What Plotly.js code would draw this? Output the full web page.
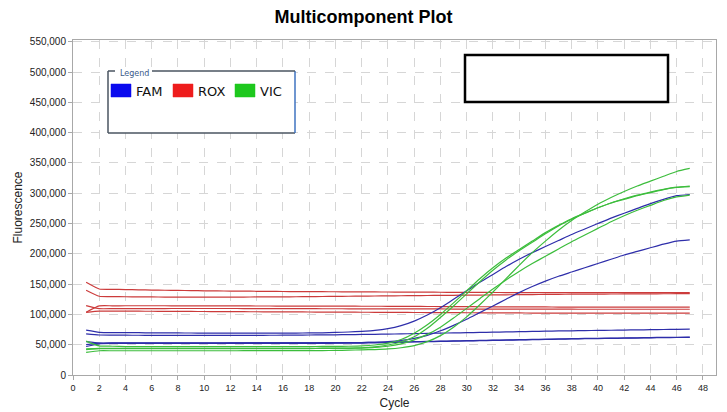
<!DOCTYPE html>
<html>
<head>
<meta charset="utf-8">
<script src="https://cdn.plot.ly/plotly-3.0.1.min.js"></script>
<style>html,body{margin:0;padding:0;background:#fff;}#chart{width:727px;height:412px;}</style>
</head>
<body>
<div id="chart"></div>
<script>
const cycles = [1,2,3,4,5,6,7,8,9,10,11,12,13,14,15,16,17,18,19,20,21,22,23,24,25,26,27,28,29,30,31,32,33,34,35,36,37,38,39,40,41,42,43,44,45,46,47];

const fam1 = [74000,70500,70000,70000,69800,69600,69500,69400,69300,69200,
  69100,69000,69000,69000,69000,69100,69200,69400,69700,70200,
  71000,72000,73500,76500,81500,89000,99000,111000,125000,139000,
  153000,166000,179000,191000,202000,212000,222000,232000,241000,250000,
  259000,267000,275000,283000,290000,296000,298000];
const fam2 = [68000,66000,65800,65700,65600,65500,65500,65400,65400,65400,
  65400,65400,65500,65500,65600,65700,65800,66000,66200,66400,
  66600,66900,67200,67500,67900,68300,68700,69100,69500,69900,
  70300,70700,71100,71500,71900,72300,72700,73000,73300,73600,
  73900,74200,74500,74800,75100,75400,75600];
const fam3 = [55000,52500,52500,52500,52600,52600,52700,52700,52800,52800,
  52800,52900,52900,52900,53000,53000,53000,53000,53100,53100,
  53200,53500,54000,55000,57000,60500,65500,73000,82000,92000,
  103000,114000,125000,136000,146000,155000,163000,170000,177000,184000,
  191000,198000,204000,210000,216000,221000,223000];
const fam4 = [47000,51500,52000,52000,52000,52000,52000,52000,52000,52000,
  52000,52000,52000,52100,52100,52200,52200,52300,52300,52400,
  52500,52700,53000,53500,54000,54500,55000,55400,55800,56200,
  56600,57000,57400,57800,58200,58600,59000,59400,59800,60100,
  60400,60700,61000,61300,61600,61900,62100];
const fam5 = [50000,52500,53000,53000,53000,53000,53000,53000,53000,53000,
  53000,53000,53000,53000,53100,53100,53200,53200,53300,53300,
  53400,53600,53900,54300,54700,55100,55500,55900,56300,56700,
  57100,57500,57900,58300,58700,59100,59500,59900,60300,60600,
  60900,61200,61500,61800,62100,62300,62500];

const rox1 = [153000,142000,141500,141000,140600,140200,139900,139600,139300,139000,
  138800,138600,138400,138200,138000,137800,137700,137600,137500,137400,
  137300,137200,137100,137000,136900,136800,136700,136600,136500,136400,
  136300,136200,136100,136000,136000,136000,136000,136000,136000,136000,
  136000,136000,136000,136000,136000,136000,136000];
const rox2 = [140000,130000,129500,129200,129000,128800,128700,128600,128500,128500,
  128500,128600,128700,128800,128900,129000,129200,129400,129600,129800,
  130000,130200,130400,130600,130800,131000,131200,131400,131600,131800,
  132000,132200,132400,132600,132800,133000,133200,133400,133500,133600,
  133700,133800,133900,134000,134100,134200,134300];
const rox3 = [114500,109500,109500,109600,109600,109700,109700,109800,109800,109800,
  109800,109800,109700,109700,109600,109600,109500,109500,109400,109400,
  109300,109300,109200,109200,109100,109100,109000,109000,108900,108900,
  108800,108800,108700,108700,108700,108600,108600,108600,108500,108500,
  108500,108500,108500,108500,108500,108500,108500];
const rox4 = [103500,114000,114200,114300,114300,114300,114300,114200,114200,114100,
  114100,114000,114000,113900,113900,113800,113800,113700,113700,113600,
  113600,113500,113500,113400,113300,113200,113100,113000,112900,112800,
  112700,112600,112500,112400,112300,112300,112200,112200,112100,112100,
  112100,112000,112000,112000,112000,112000,112000];
const rox5 = [103500,105500,105500,105400,105300,105200,105100,105000,104900,104800,
  104700,104600,104500,104400,104300,104200,104100,104000,103900,103800,
  103700,103600,103500,103400,103300,103200,103100,103000,102900,102800,
  102700,102600,102500,102400,102300,102300,102200,102200,102100,102100,
  102100,102000,102000,102000,102000,102000,102000];

const vic1 = [37500,40000,40000,40000,40000,40000,40000,40000,40000,40000,
  40000,40000,40100,40100,40200,40200,40300,40300,40400,40500,
  41000,41500,42000,43000,45000,48500,55000,65000,79000,96000,
  116000,137000,159000,181000,202000,221000,239000,255000,269000,282000,
  293000,303000,312000,320000,328000,336000,341000];
const vic2 = [56000,48000,47500,47000,47000,46800,46800,46700,46700,46700,
  46700,46700,46700,46700,46800,46800,46900,47000,47100,47300,
  47500,48000,49500,52500,58500,69000,83000,100000,119000,139000,
  159000,177000,193000,207000,221000,235000,247000,258000,267000,276000,
  284000,290000,296000,301000,306000,309500,311000];
const vic3 = [43000,44000,44000,44000,44000,44000,44000,44000,44000,44000,
  44000,44000,44000,44000,44000,44000,44000,44100,44200,44300,
  44500,45000,46500,49500,54500,63000,77000,95000,114000,134000,
  154000,173000,190000,205000,219000,233000,246000,257000,267000,276000,
  284000,291000,297000,302000,306500,310000,312000];
const vic4 = [42000,43500,43500,43500,43500,43500,43500,43500,43500,43500,
  43500,43500,43500,43500,43500,43500,43600,43700,43800,43900,
  44000,44500,45500,47500,51500,58000,67000,79000,94000,110000,
  126000,142000,157000,171000,184000,196000,208000,220000,231000,242000,
  253000,263000,272000,280000,288000,294000,297000];

const dyeNames = ['FAM', 'ROX', 'VIC'];
const lineColors = {FAM: '#2e2eaa', ROX: '#cc3b3b', VIC: '#3cbd3c'};
const swatchColors = {FAM: '#0a0aee', ROX: '#ee1c1c', VIC: '#1ec81e'};
const seriesByDye = {
  ROX: [rox1, rox2, rox3, rox4, rox5],
  FAM: [fam1, fam2, fam3, fam4, fam5],
  VIC: [vic1, vic2, vic3, vic4]
};

const traces = [];
['ROX', 'FAM', 'VIC'].forEach(dye => {
  seriesByDye[dye].forEach(vals => {
    traces.push({
      type: 'scatter', mode: 'lines', x: cycles, y: vals,
      line: {color: lineColors[dye], width: 1.2, shape: 'spline', smoothing: 0.5},
      showlegend: false, hoverinfo: 'skip'
    });
  });
});

// plot area geometry in pixels
const W = 727, H = 412, mL = 73, mR = 11, mT = 40, mB = 37;
const pw = W - mL - mR, ph = H - mT - mB;
const px = v => (v - mL) / pw;
const py = v => (H - mB - v) / ph;

const font = 'Liberation Sans, Arial, sans-serif';
const legendFont = 'DejaVu Sans, Verdana, sans-serif';
const frameColor = '#4a5560';

const shapes = [
  // legend box background
  {type: 'rect', xref: 'paper', yref: 'paper', x0: px(108), x1: px(295), y0: py(133), y1: py(71),
   fillcolor: '#ffffff', line: {width: 0}, layer: 'above'},
  {type: 'line', xref: 'paper', yref: 'paper', x0: px(108), x1: px(108), y0: py(133), y1: py(71), line: {color: frameColor, width: 1.5}},
  {type: 'line', xref: 'paper', yref: 'paper', x0: px(108), x1: px(295), y0: py(133), y1: py(133), line: {color: frameColor, width: 1.5}},
  {type: 'line', xref: 'paper', yref: 'paper', x0: px(295), x1: px(295), y0: py(133), y1: py(71), line: {color: '#3f73c0', width: 1.5}},
  {type: 'line', xref: 'paper', yref: 'paper', x0: px(108), x1: px(115), y0: py(71), y1: py(71), line: {color: frameColor, width: 1.5}},
  {type: 'line', xref: 'paper', yref: 'paper', x0: px(152), x1: px(295), y0: py(71), y1: py(71), line: {color: frameColor, width: 1.5}},
  // empty black box
  {type: 'rect', xref: 'paper', yref: 'paper', x0: px(465), x1: px(668), y0: py(102), y1: py(55),
   fillcolor: '#ffffff', line: {color: '#000000', width: 2.5}, layer: 'above'}
];
const annotations = [
  {xref: 'paper', yref: 'paper', x: px(118), y: py(73), xanchor: 'left', yanchor: 'middle', showarrow: false,
   text: 'Legend', font: {family: legendFont, size: 8, color: '#3a5a8a'}}
];
const swatchX = {FAM: 111, ROX: 173, VIC: 235};
dyeNames.forEach(dye => {
  const x0 = swatchX[dye];
  shapes.push({type: 'rect', xref: 'paper', yref: 'paper', x0: px(x0), x1: px(x0 + 20), y0: py(97), y1: py(84),
    fillcolor: swatchColors[dye], line: {color: swatchColors[dye], width: 0.5}, layer: 'above'});
  annotations.push({xref: 'paper', yref: 'paper', x: px(x0 + 23), y: py(91), xanchor: 'left', yanchor: 'middle',
    showarrow: false, text: dye, font: {family: legendFont, size: 13, color: '#111'}});
});

const layout = {
  width: W, height: H,
  margin: {l: mL, r: mR, t: mT, b: mB},
  paper_bgcolor: '#ffffff', plot_bgcolor: '#ffffff',
  font: {family: font, size: 10, color: '#222'},
  title: {text: 'Multicomponent Plot', x: 0.5, xref: 'container', xanchor: 'center', y: 1 - 17 / H, yanchor: 'middle',
    font: {family: font, size: 18, color: '#000', weight: 'bold'}},
  xaxis: {
    range: [0, 49], tick0: 0, dtick: 2,
    showgrid: true, gridcolor: '#d6d6d6', griddash: 'dash', gridwidth: 1,
    showline: true, mirror: true, linecolor: '#a8a8a8', linewidth: 1,
    ticks: 'outside', ticklen: 4, tickcolor: '#a8a8a8', zeroline: false,
    tickfont: {family: font, size: 9, color: '#222'},
    title: {text: 'Cycle', font: {family: font, size: 12, color: '#222'}, standoff: 6}
  },
  yaxis: {
    range: [0, 553000], tick0: 0, dtick: 50000, tickformat: ',d',
    showgrid: true, gridcolor: '#d6d6d6', griddash: 'dash', gridwidth: 1,
    showline: true, mirror: true, linecolor: '#a8a8a8', linewidth: 1,
    ticks: 'outside', ticklen: 4, tickcolor: '#a8a8a8', zeroline: false,
    tickfont: {family: font, size: 10, color: '#222'},
    title: {text: 'Fluorescence', font: {family: font, size: 12, color: '#222'}, standoff: 4}
  },
  shapes: shapes,
  annotations: annotations,
  showlegend: false,
  hovermode: false
};

Plotly.newPlot('chart', traces, layout, {displayModeBar: false, staticPlot: true});
</script>
</body>
</html>
